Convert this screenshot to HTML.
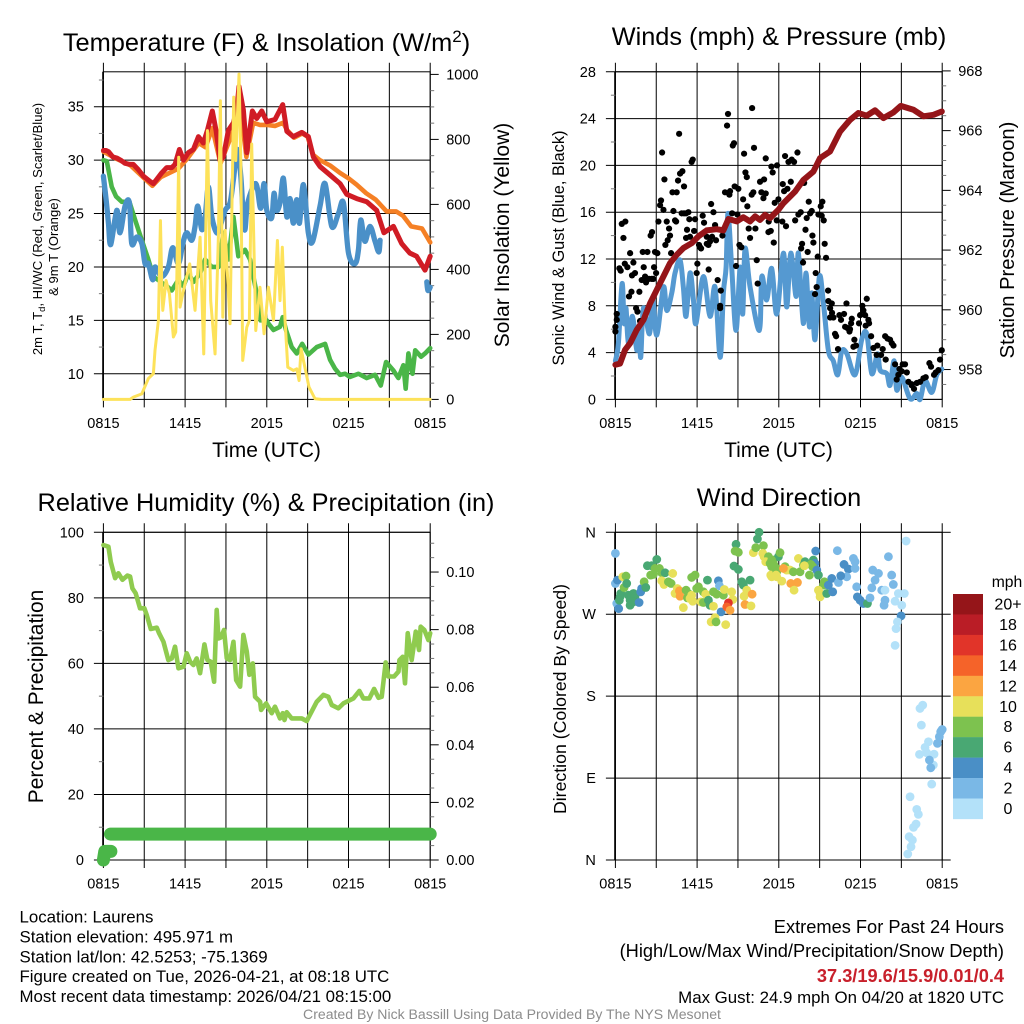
<!DOCTYPE html>
<html lang="en">
<head>
<meta charset="utf-8">
<title>Laurens Mesonet Station Meteogram</title>
<style>
html,body{margin:0;padding:0;background:#fff;}
svg{display:block;font-family:"Liberation Sans",Arial,sans-serif;fill:#000;}
</style>
</head>
<body>
<svg id="chart" xmlns="http://www.w3.org/2000/svg" width="1024" height="1024" viewBox="0 0 1024 1024">
  <rect x="0" y="0" width="1024" height="1024" fill="#fff"/>
  <g id="layer-1"></g>
  <g id="layer-2"></g>
  <g id="layer-3"></g>
  <g id="layer-4"></g>
  <g id="layer-legend"></g>

  <text x="266.5" y="51" font-size="25.4" text-anchor="middle">Temperature (F) &amp; Insolation (W/m<tspan font-size="17" dy="-9">2</tspan><tspan dy="9">)</tspan></text>
  <text x="779" y="45" font-size="25.3" text-anchor="middle">Winds (mph) &amp; Pressure (mb)</text>
  <text x="266" y="511" font-size="25.3" text-anchor="middle">Relative Humidity (%) &amp; Precipitation (in)</text>
  <text x="779" y="506" font-size="25.3" text-anchor="middle">Wind Direction</text>

  <text x="266.5" y="457" font-size="21" text-anchor="middle">Time (UTC)</text>
  <text x="778.5" y="457" font-size="21" text-anchor="middle">Time (UTC)</text>

  <text transform="translate(42,229) rotate(-90)" font-size="13.1" text-anchor="middle">2m T, T<tspan font-size="9.5" dy="3">d</tspan><tspan dy="-3">, HI/WC (Red, Green, Scarlet/Blue)</tspan></text>
  <text transform="translate(58,247) rotate(-90)" font-size="13.1" text-anchor="middle">&amp; 9m T (Orange)</text>
  <text transform="translate(509,235) rotate(-90)" font-size="21" text-anchor="middle">Solar Insolation (Yellow)</text>
  <text transform="translate(564,248) rotate(-90)" font-size="16.4" text-anchor="middle">Sonic Wind &amp; Gust (Blue, Black)</text>
  <text transform="translate(1014,240) rotate(-90)" font-size="20.2" text-anchor="middle">Station Pressure (Maroon)</text>
  <text transform="translate(43,696.5) rotate(-90)" font-size="21" text-anchor="middle">Percent &amp; Precipitation</text>
  <text transform="translate(566,699) rotate(-90)" font-size="17.7" text-anchor="middle">Direction (Colored By Speed)</text>

  <g font-size="16.85">
    <text x="19.5" y="922.5">Location: Laurens</text>
    <text x="19.5" y="942.5">Station elevation: 495.971 m</text>
    <text x="19.5" y="962.5">Station lat/lon: 42.5253; -75.1369</text>
    <text x="19.5" y="982">Figure created on Tue, 2026-04-21, at 08:18 UTC</text>
    <text x="19.5" y="1002">Most recent data timestamp: 2026/04/21 08:15:00</text>
  </g>
  <g text-anchor="end">
    <text x="1004" y="933" font-size="18.25">Extremes For Past 24 Hours</text>
    <text x="1004" y="957" font-size="18.25">(High/Low/Max Wind/Precipitation/Snow Depth)</text>
    <text x="1004" y="982" font-size="18.2" font-weight="bold" fill="#c8202b">37.3/19.6/15.9/0.01/0.4</text>
    <text x="1004" y="1003" font-size="16.85">Max Gust: 24.9 mph On 04/20 at 1820 UTC</text>
  </g>
  <text x="512" y="1019" font-size="14.07" text-anchor="middle" fill="#8c8c8c">Created By Nick Bassill Using Data Provided By The NYS Mesonet</text>
</svg>

<script>
// ---- Shared axis labels ----
const timeTickHours = [0, 6, 12, 18, 24];
const timeTickLabels = ['0815', '1415', '2015', '0215', '0815'];
const timeGridHours = [0, 3, 6, 9, 12, 15, 18, 21, 24];

// ---- Temperature panel ----
const tempTicks = [10, 15, 20, 25, 30, 35];
const tempMinorTicks = [7.5, 12.5, 17.5, 22.5, 27.5, 32.5, 37.5];
const solarTicks = [0, 200, 400, 600, 800, 1000];
const solarMinorTicks = [50, 100, 150, 250, 300, 350, 450, 500, 550, 650, 700, 750, 850, 900, 950];

const airHours = [0,0.2,0.37,0.69,0.98,1.27,1.59,1.96,2.2,2.57,2.94,3.43,3.67,3.92,4.28,4.65,5.02,5.26,5.58,5.88,6.24,6.61,6.98,7.34,7.64,8,8.27,8.57,8.81,9.18,9.55,9.79,9.96,10.28,10.53,10.94,11.26,11.63,12,12.6,13.17,13.47,13.95,14.57,15.05,15.42,15.91,16.65,17.38,17.87,18.6,19.34,20.07,20.6,21.3,21.9,22.5,23,23.62,24];
const airTemp = [30.9,30.9,30.8,30.3,30.2,30,29.7,29.6,29.6,29.1,28.5,28,27.8,28.2,28.8,29.3,29.3,29.6,31,30,30.7,31,32.2,31.6,32.8,34.6,32.8,30,30.3,32.8,33.5,34.7,36.9,34.7,30.7,34.6,33.9,34.6,33.6,33.8,35.2,32.7,32.2,32.6,32.2,30.3,29.4,28.6,27.8,26.8,26.4,26.1,25.3,23.2,23.8,22.2,21.3,21,19.7,21];

const nineMeterHours = [0,1,2,3,3.6,4.2,5,5.5,6.2,7,7.5,8,8.6,9,9.5,10,10.5,11,11.5,12,12.6,13.2,13.5,14,14.6,15,15.4,15.9,16.65,17.38,18,18.6,19.3,20,20.8,21.5,22,22.6,23.4,24];
const nineMeterTemp = [30.8,30.1,29.5,28.3,27.6,28.4,28.9,29.2,30.2,31.6,31.2,33,29.7,31,32.6,35.5,30.3,33.5,33.3,33.3,33.2,33.5,32.8,32.1,32.5,32.2,30.5,30,29.5,28.8,28.3,27.7,26.9,26.3,25.2,25.2,24.8,23.8,23.6,22.3];

const chillHours = [0,0.2,0.37,0.54,0.98,1.22,1.59,1.91,2.08,2.45,2.82,3.06,3.3,3.62,3.79,4.28,4.77,5.09,5.51,5.83,6.12,6.49,6.73,6.93,7.22,7.47,7.71,7.96,8.32,8.57,8.94,9.3,9.55,9.84,10.09,10.36,10.6,11.19,11.55,11.8,12,12.36,12.53,12.7,12.97,13.22,13.47,13.71,13.95,14.2,14.4,14.69,15.05,15.37,15.91,16.28,16.77,17.26,17.63,18,18.48,18.73,18.9,19.2,19.58,19.95,20.22,20.32,null,23.75,23.83,24];
const chillTemp = [28.5,26.3,24.1,22.1,25.3,23.2,25.7,26,22.2,22.8,22.2,20.3,20.3,18.8,20,19.1,20,21.8,20.3,22.2,23.2,22.5,23.8,25.7,23.5,24.7,27.5,24.7,23.2,23.8,25.3,26,28.2,31,28.5,23.5,26,27.8,25.5,27.8,25.3,24.6,26.9,25.3,26,28.3,24.7,26.4,24.1,26.3,24.1,27.7,23.2,22.4,25.7,27.8,23.8,25,26,21.3,20.3,21.6,24.4,22.4,23.8,22.4,21.4,22.5,null,18.6,17.8,18.1];

const dewHours = [0,0.25,0.61,0.93,1.35,1.91,2.33,2.82,3.3,3.67,4.65,5.02,5.51,5.88,6.24,6.61,7.1,7.47,7.96,8.45,8.81,9.18,9.55,9.91,10.4,10.77,11.26,11.55,12,12.12,12.49,12.97,13.17,13.41,13.83,14.2,14.6,15.05,15.67,16.28,16.65,17,17.38,17.75,18.1,18.73,19.34,19.95,20.37,20.76,21.3,21.66,22.03,22.2,22.4,22.7,22.9,23.33,23.62,24];
const dewTemp = [30,29.9,27.5,26.6,26.1,26.1,24.4,22.5,20.7,19.1,18.2,17.8,18.8,18.2,19.4,18.6,19.4,20.7,20,20,23.2,20.7,24.7,21,21.6,20.7,17.5,15,15,14.7,14.1,14.4,15.3,14.1,12.5,11.9,12.8,11.8,12.5,12.8,11.3,10.5,9.9,10,9.7,10,9.6,9.9,8.9,11.1,10.3,9.6,10.8,8.6,11.9,10,12.2,11.6,11.9,12.4];

const solarHours = [0,1.96,2.2,2.82,3.3,3.67,3.79,4.04,4.19,4.28,4.36,4.6,4.85,5.14,5.31,5.39,5.53,5.63,5.88,6.34,6.73,7.1,7.37,7.64,7.88,8.2,8.45,8.59,8.77,8.94,9.3,9.57,9.72,9.96,10.09,10.23,10.53,10.72,10.89,11.19,11.5,11.8,12.12,12.49,12.78,12.97,13.14,13.34,13.54,13.95,14.2,14.37,14.52,14.69,15.1,15.54,16,24];
const solarWatts = [0,0,7,17,64,79,151,243,550,366,274,366,325,192,207,366,745,284,335,417,274,499,140,827,304,140,509,919,253,520,233,930,735,1001,735,120,222,243,786,212,345,202,345,243,489,304,468,243,99,89,94,58,156,120,38,2,0,0];

// ---- Wind panel ----
const windTicks = [0, 4, 8, 12, 16, 20, 24, 28];
const windMinorTicks = [2, 6, 10, 14, 18, 22, 26];
const pressureTicks = [958, 960, 962, 964, 966, 968];
const pressureMinorTicks = [957.5, 958.5, 959, 959.5, 960.5, 961, 961.5, 962.5, 963, 963.5, 964.5, 965, 965.5, 966.5, 967, 967.5];

const windHours = [0,0.22,0.49,0.64,0.78,0.95,1.25,1.57,1.74,1.86,2.06,2.5,2.74,3.04,3.53,3.77,4.14,4.38,4.75,4.99,5.19,5.48,5.73,5.92,6.46,6.95,7.32,7.69,7.93,8.13,8.27,8.54,8.86,9.16,9.35,9.52,9.89,10.57,10.75,11.11,11.48,11.85,12.34,12.58,12.88,13.27,13.44,13.8,14,14.25,14.42,14.66,14.98,15.28,15.64,16,16.33,16.62,17,17.6,18.09,18.46,18.83,19.25,19.44,19.93,20.17,20.47,20.66,21.03,21.64,22.13,22.38,22.74,23.23,23.6,23.97];
const windMph = [3.3,4.8,9.9,6.5,7.8,4.8,7.1,4.2,6.2,3.6,7.8,5.6,8.5,5.5,9.6,7.6,9.1,10.8,11.9,9.6,7.1,10.8,8.5,6.5,10.5,7.1,9.6,3.6,9.1,11.3,15.9,11.3,5.9,11.3,7.3,12.9,9.6,5.9,10.5,8.5,11.2,7.3,12.5,7.9,12.5,8.8,12.5,6.5,10.8,6.2,9.1,5.1,10.5,8.2,4.2,3.3,2.1,4.1,3.9,2.1,5.1,5.6,2.2,3.9,2.5,2.2,1.2,3.3,0.8,1.9,0.06,0.5,0,1.6,0.6,2.1,2.6];

const pressureHours = [0,0.34,0.71,1.08,1.57,2.06,2.55,3.04,3.53,4.01,4.5,5,5.6,6.1,6.7,7.44,7.93,8.3,8.91,9.4,9.89,10.26,10.62,10.99,11.36,11.97,12.34,13.2,13.81,14.54,15.03,15.76,16.5,17.23,17.84,18.46,19.07,19.68,20.42,20.96,21.89,22.62,23.36,23.97];
const pressureMb = [958.16,958.2,958.66,958.88,959.33,959.66,960.22,960.67,961.12,961.56,961.84,962.07,962.23,962.46,962.66,962.7,962.66,963.04,962.96,963.1,962.96,963.13,963.01,963.18,963.07,963.35,963.57,963.96,964.35,964.63,965.08,965.3,965.97,966.36,966.59,966.5,966.68,966.42,966.61,966.83,966.7,966.48,966.53,966.64];

const gustHours = [0,0,0.1,0.1,0.29,0.39,0.47,0.73,0.59,0.69,0.88,1.08,1,1.18,1.32,1.22,1.44,1.52,1.62,1.76,1.81,1.93,2.01,2.08,2.2,2.35,2.18,2.25,2.47,2.67,2.79,2.59,2.69,2.84,2.91,3.08,2.99,3.16,3.28,3.35,3.53,3.43,3.6,3.77,3.67,3.84,4.01,3.94,4.09,4.19,4.5,4.26,4.38,4.46,4.6,4.75,4.92,5.04,4.68,4.87,5.04,5.36,5.19,5.26,5.19,5.48,5.43,5.78,5.85,5.68,5.6,6.14,6.02,5.97,6.22,6.29,6.41,6.51,6.51,6.71,6.83,6.95,6.71,6.85,7.03,7.2,7.32,7.39,7.1,7.51,7.74,7.69,7.69,7.86,8.05,8.37,8.42,8.27,8.2,8.62,8.71,8.76,9.03,8.57,8.96,9.11,9.25,8.86,9.45,9.55,9.65,9.38,9.69,9.89,9.79,10.01,10.13,10.28,10.04,10.18,10.38,10.45,10.62,10.92,10.72,11.04,10.87,11.04,11.46,11.55,11.87,11.24,11.41,11.63,11.7,11.26,11.85,11.97,12.29,12.39,12.63,12.88,12.46,12.71,12.95,13.12,13.37,12.26,12.53,13.86,13.2,13.44,13.61,14.05,14.3,14.42,14.2,13.96,14.47,14.54,13.71,13.64,14.12,13.78,14.86,15.47,15.37,14.91,15.08,15.2,15.15,15.3,14.71,14.78,14.66,15.62,15.64,15.89,15.77,15.77,16.01,15.91,16.45,16.79,16.57,16.97,16.87,17.04,17.23,17.19,17.36,17.31,16.13,16.21,16.35,17.48,17.67,17.55,17.89,17.97,18.14,18.21,18.34,18.46,18.58,18.63,18.38,18.78,18.95,19.24,19.19,19.51,19.63,19.81,19.98,20.17,20.3,20.42,19.85,20.54,20.78,20.86,21.1,21.27,21.03,21.4,20.66,21.52,21.76,21.93,21.76,22.13,22.38,22.62,22.79,23.06,23.18,23.4,23.53,23.72,23.84,23.97];
const gustMph = [5.8,6.2,7.3,6.8,11.2,11,15,15.2,13.8,11.6,11.3,12.5,8.8,9.2,11.7,10.6,10.8,7.8,7.5,9.2,6.7,10.2,12.6,11.3,10.3,12.6,10.5,10,10.3,10.3,10.3,14,14.3,11.3,12.6,12.5,10.8,15.2,16.6,17,16.2,21.1,18.8,15.2,13.2,13.6,14,14.6,12.5,17.7,17.7,16.1,15.3,15.2,18.7,19.3,19.5,18.2,22.7,15.9,15.9,16,15.9,14.5,13.8,13.9,15.4,14.4,15.4,20.5,20.3,13.2,11.6,10.8,13,12.9,15.7,15.1,14.2,13.3,13.2,13.5,13.9,11.1,16.7,16,14.9,13.6,13.9,10.2,9.3,8,7.8,14,17.7,17.5,17.8,24.4,23.4,21.7,21.9,18.2,18,15.9,15.8,13.2,13,11.4,21,19.4,19,17.1,16.5,13.8,14.6,17.5,17.7,14.6,24.9,21.5,11.9,9.9,18.6,18.8,17.7,17.6,17.2,20.6,19.9,19.4,20,14.3,14.4,13.4,16.8,15.2,15.3,17.1,18.4,17.8,18,18.6,20.8,20.3,20.5,20.3,21.1,15.2,14.8,18.5,15.3,15.8,16,15.5,15.9,16.1,16.9,14.5,14,13.4,13.3,12.9,12.6,11.7,12.2,12.1,13.3,15.8,16.5,16.9,15.7,15.3,10.8,9.6,9,9.3,8.4,8.2,7.8,7,7,7.4,7.2,7.3,6.8,8.2,6.2,6.1,6,5.8,6.9,6.5,5.6,5.4,4.3,4.5,4.6,5.1,6.5,7.2,8,7.6,7.2,8.6,6.8,6.5,6.3,5.4,4.4,4.6,3.8,3.8,4.3,5.4,5.2,5.1,4.8,4.6,3.4,3,2.1,2.6,3,3,2.4,2.3,1.7,1.5,1.2,0.9,1.3,1.4,1.5,1.8,1.9,3.1,2.8,2.1,2.3,2.5,3.4,4.2];

// ---- Humidity / precipitation panel ----
const humidityTicks = [0, 20, 40, 60, 80, 100];
const humidityMinorTicks = [10, 30, 50, 70, 90];
const precipTicks = [0, 0.02, 0.04, 0.06, 0.08, 0.10];
const precipMinorTicks = [0.005, 0.01, 0.015, 0.025, 0.03, 0.035, 0.045, 0.05, 0.055, 0.065, 0.07, 0.075, 0.085, 0.09, 0.095, 0.105, 0.11];

const humidityHours = [0,0.37,0.54,0.86,1.1,1.4,1.76,1.96,2.13,2.37,2.69,3.01,3.18,3.48,3.92,4.09,4.41,4.77,5.02,5.26,5.51,5.88,6.12,6.37,6.61,6.85,7.1,7.42,7.64,7.88,8.13,8.32,8.45,8.62,8.86,9.06,9.3,9.55,9.75,10.04,10.28,10.53,10.72,10.97,11.14,11.51,11.58,11.95,12.36,12.6,12.97,13.17,13.3,13.46,13.83,14.57,14.93,15.67,16.16,16.52,16.77,17.26,17.63,18.36,18.8,19.09,19.53,19.88,20.2,20.44,20.73,20.93,21.35,21.67,21.74,21.98,22.15,22.35,22.64,22.94,23.18,23.3,23.57,23.87,24];
const humidityPct = [96.1,95.6,91,86,87.5,85.5,86.8,86.5,82.9,81.4,76.8,76.8,74.8,70.5,70.9,69.2,66.6,61,61.5,65.1,58.5,59,63.1,60.5,59.5,61.5,57,65.8,61,60.5,54.4,76.3,67.6,67.9,70.2,61.5,61,66.6,54.9,52.9,68.7,63.6,56.5,60,49.8,48.3,45.8,47.8,44.8,46.8,43.2,44.8,42.7,45.1,43.2,43.2,42.4,48.3,50.4,49.8,47.3,46.3,47.8,49.3,51.6,49.3,49.3,52.2,49.5,49.8,60.3,56,56,57.5,61,62,53.9,69.2,61,69.7,64.1,71.2,70.2,67.1,69.2];

const precipHours = [0, 0.1, 0.55, null, 0.52, 24];
const precipInches = [0, 0.003, 0.003, null, 0.009, 0.009];

// ---- Direction panel ----
const directionTicks = [0, 90, 180, 270, 360];
const directionLabels = ['N', 'E', 'S', 'W', 'N'];

const dirHours = [0,0,0.1,0.15,0.24,0.39,0.34,0.29,0.54,0.64,0.78,0.83,0.95,1.08,1.2,1.32,1.44,1.08,1.32,1.74,1.86,1.93,2.11,2.23,2.35,2.67,3.04,2.91,3.23,2.59,2.79,3.4,3.65,4.21,3.4,3.57,3.89,4.09,4.55,4.38,4.7,4.75,4.99,5.19,5.36,5.29,5.48,5.6,5.68,5.85,5.6,6.1,5.97,6.27,6.46,6.46,6.63,6.76,6.83,6.95,7.2,7.56,7.64,7.2,7.44,7.93,8,8.54,8.62,7.76,7.32,7.03,7.39,8.1,8.86,8.79,9.03,8.71,9.03,10.13,10.31,10.43,10.55,10.87,10.82,10.92,11.24,11.04,11.36,11.6,11.97,11.48,11.85,11.41,11.6,11.85,9.28,9.4,9.89,9.65,9.45,10.04,9.52,9.96,8.3,8.18,8.42,11.48,11.65,12.09,11.85,12.46,12.58,12.83,12.22,11.48,11.8,12.34,12.88,13.37,13.12,13.44,13.07,13.56,13.81,13.93,14.54,14.66,14.49,14.35,14.25,13.88,14.71,14.79,14.91,15.35,15.28,15.64,15.89,15.03,15.03,14.91,15.52,15.96,16.38,16.3,16.79,17.11,16.99,16.55,17.48,17.6,17.6,17.72,17.77,17.97,18.21,18.51,18.7,20.05,18.9,19.32,19.07,18.83,19.56,19.8,20.29,20.41,19.8,19.73,20.54,20.78,21.22,21.35,20.98,20.71,20.61,20.54,21.03,22.57,22.37,22.47,22.99,22.74,22.33,22.86,23.4,23.35,23.06,23.16,23.65,23.79,23.89,24,23.23,21.64,22.13,22.25,22.08,21.89,21.57,21.81,21.71,21.47];
const dirDegrees = [336.8,303.8,281.8,307.5,276.2,292.8,289.1,285.4,311.1,299.4,311.9,303.8,290.9,285.4,290.9,292.8,289.1,279.9,283.6,282.9,294.6,298.3,305.6,299.4,323.3,323.3,330.2,320.3,320.3,313,313.7,315.5,315.5,314.8,306.7,302.7,305.6,303.8,298.3,292.8,295.7,289.8,277.3,296.4,292.8,288,287.3,290.9,284.3,313,310.4,300.1,298.3,283.6,282.9,294.6,292,307.5,285.4,279.9,278.8,306.7,301.2,294.6,292,290.9,297.2,294.6,286.2,272.6,266.3,261.6,261.6,258.6,346.8,339.4,338,322.9,319.2,337.6,343.1,352.6,360,345.3,336.8,333.2,333.2,327.7,325.8,329.5,333.2,322.2,320.3,313,312.2,311.1,305.6,302,307.5,296.4,289.8,292,280.7,279.2,282.5,278.1,274.4,329.5,324,337.6,316.6,322.2,318.5,318.5,306.4,311.1,313,320.3,303.8,304.9,296.4,331.3,316.6,316.6,324,327.7,329.5,325.8,322.2,324.7,313,323.3,339.4,318.5,313,305.6,302,302,309.3,292.8,289.1,296.4,292.8,294.6,304.9,339.8,324.7,319.6,311.1,312.2,331.3,327.7,320.3,300.1,289.1,285.4,281.8,281.8,288,333.2,318.5,314.8,307.5,299,296.4,296.4,313,302.7,285.4,279.9,284.3,292.8,292.8,350.4,268.2,261.6,254.2,235.8,279.9,170.1,166.5,148.2,129.9,123.7,116,117.8,116.3,104.3,109.8,101.3,128.1,135.4,140.9,143.4,83.4,69.5,55.6,50.1,39.5,35.8,25.6,21.9,14.6,6.6];
const dirSpeeds = [2,2,2,4,4,6,6,6,10,8,8,6,6,6,6,6,6,6,6,4,4,4,8,6,6,6,6,8,8,8,8,8,6,10,10,10,8,8,10,10,12,12,10,8,8,8,10,10,10,8,8,8,8,10,8,8,10,6,6,6,10,4,2,8,8,8,10,10,10,4,10,10,8,10,6,8,8,6,6,10,8,6,6,8,10,10,8,10,8,8,6,8,8,10,10,10,6,6,6,10,10,12,12,10,16,14,12,8,8,8,8,8,10,10,10,10,10,12,12,12,10,10,8,8,8,6,6,4,8,8,8,10,4,4,6,8,8,4,4,10,10,10,6,4,2,2,4,4,2,4,2,2,2,2,4,4,4,6,2,2,2,2,2,2,2,0,2,2,2,2,0,0,0,0,4,0,0,0,0,0,0,0,0,0,0,0,0,0,2,2,2,2,2,2,0,0,0,0,0,0,0,0,0,0];

// ---- Speed legend ----
const legendLabels = ['20+', '18', '16', '14', '12', '10', '8', '6', '4', '2', '0'];
const speedColors = ['#b3e1f9', '#7ab8e6', '#4a8fc6', '#49a873', '#7dc24f', '#e7e05a', '#fba541', '#f56329', '#e13429', '#ba1d26', '#951519'];

const SVG_NS = 'http://www.w3.org/2000/svg';

function makeLinear(d0, d1, r0, r1) {
  return function (v) { return r0 + (v - d0) * (r1 - r0) / (d1 - d0); };
}

function addEl(parent, tag, attrs) {
  const el = document.createElementNS(SVG_NS, tag);
  for (const k in attrs) el.setAttribute(k, attrs[k]);
  parent.appendChild(el);
  return el;
}

function linePath(hours, values, xf, yf, smooth) {
  let d = '';
  let run = [];
  function flush() {
    if (!run.length) return;
    d += 'M' + run[0][0].toFixed(2) + ' ' + run[0][1].toFixed(2);
    for (let i = 0; i < run.length - 1; i++) {
      const a = run[i];
      const b = run[i + 1];
      if (smooth) {
        const p = run[Math.max(0, i - 1)];
        const n = run[Math.min(run.length - 1, i + 2)];
        const c1x = a[0] + (b[0] - p[0]) / 6;
        const c1y = a[1] + (b[1] - p[1]) / 6;
        const c2x = b[0] - (n[0] - a[0]) / 6;
        const c2y = b[1] - (n[1] - a[1]) / 6;
        d += 'C' + c1x.toFixed(2) + ' ' + c1y.toFixed(2) + ' ' + c2x.toFixed(2) + ' ' + c2y.toFixed(2) + ' ' + b[0].toFixed(2) + ' ' + b[1].toFixed(2);
      } else {
        d += 'L' + b[0].toFixed(2) + ' ' + b[1].toFixed(2);
      }
    }
    run = [];
  }
  for (let i = 0; i < hours.length; i++) {
    if (hours[i] === null || values[i] === null) { flush(); continue; }
    run.push([xf(hours[i]), yf(values[i])]);
  }
  flush();
  return d;
}

function drawSeries(parent, name, hours, values, xf, yf, color, width, smooth) {
  const p = addEl(parent, 'path', {
    d: linePath(hours, values, xf, yf, smooth), fill: 'none', stroke: color, 'stroke-width': width,
    'stroke-linejoin': 'round', 'stroke-linecap': 'round'
  });
  
  
  return p;
}

function hLine(parent, x0, x1, y, color, w) {
  const l = addEl(parent, 'line', { x1: x0, x2: x1, y1: y, y2: y, stroke: color, 'stroke-width': w });
  
  
  return l;
}

function label(parent, text, x, y, anchor, size) {
  const t = addEl(parent, 'text', { x: x, y: y, 'text-anchor': anchor, 'font-size': size });
  t.textContent = text;
  
  
  return t;
}

function drawFrame(parent, box, xf) {
  const frame = addEl(parent, 'rect', {
    x: box.x0, y: box.y0, width: box.x1 - box.x0, height: box.y1 - box.y0,
    fill: 'none', stroke: '#000', 'stroke-width': 1
  });
  
  
  const edge = addEl(parent, 'line', { x1: box.x0 - 0.7, x2: box.x0 - 0.7, y1: box.y0, y2: box.y1, stroke: '#000', 'stroke-width': 1 });
  
  
  timeGridHours.forEach(function (h) {
    const g = addEl(parent, 'line', { x1: xf(h), x2: xf(h), y1: box.y0 - 9, y2: box.y1 + 8, stroke: '#000', 'stroke-width': 1 });
    
    
  });
  timeTickHours.forEach(function (h, i) {
    label(parent, timeTickLabels[i], xf(h), box.y1 + 28.5, 'middle', 14.5);
  });
}

function drawLeftAxis(parent, box, yf, ticks, minor, labels) {
  ticks.forEach(function (v, i) {
    hLine(parent, box.x0 - 9.5, box.x1, yf(v), '#000', 1);
    label(parent, labels ? labels[i] : String(v), box.x0 - 19.5, yf(v) + 5, 'end', 14.5);
  });
  minor.forEach(function (v) {
    if (yf(v) > box.y1 || yf(v) < box.y0) return;
    hLine(parent, box.x0 - 4.5, box.x0, yf(v), '#777', 1);
  });
}

function drawRightAxis(parent, box, yf, ticks, minor, labels) {
  ticks.forEach(function (v, i) {
    hLine(parent, box.x1, box.x1 + 8.5, yf(v), '#000', 1);
    if (labels) label(parent, labels[i], box.x1 + 16, yf(v) + 5, 'start', 14.5);
  });
  minor.forEach(function (v) {
    if (yf(v) > box.y1 || yf(v) < box.y0) return;
    hLine(parent, box.x1, box.x1 + 4, yf(v), '#777', 1);
  });
}

// ---- Panel 1: temperature and insolation ----
(function () {
  const g = document.getElementById('layer-1');
  const box = { x0: 103.4, x1: 430.2, y0: 71.8, y1: 399.4 };
  const x = makeLinear(0, 24, box.x0, box.x1);
  const yT = makeLinear(7.6, 38.27, box.y1, box.y0);
  const yS = makeLinear(0, 1008, box.y1, box.y0);
  drawFrame(g, box, x);
  drawLeftAxis(g, box, yT, tempTicks, tempMinorTicks);
  drawRightAxis(g, box, yS, solarTicks, solarMinorTicks, solarTicks.map(String));
  drawSeries(g, 'dewpoint-line', dewHours, dewTemp, x, yT, '#4ab648', 4.6, false);
  drawSeries(g, 'wind-chill-line', chillHours, chillTemp, x, yT, '#4a90c8', 5.3, true);
  drawSeries(g, 'nine-meter-temperature-line', nineMeterHours, nineMeterTemp, x, yT, '#f58025', 4.6, false);
  drawSeries(g, 'two-meter-temperature-line', airHours, airTemp, x, yT, '#d01c25', 5, false);
  drawSeries(g, 'solar-insolation-line', solarHours, solarWatts, x, yS, '#fde25a', 3, false);
})();

// ---- Panel 2: wind and pressure ----
(function () {
  const g = document.getElementById('layer-2');
  const box = { x0: 615.4, x1: 942.2, y0: 71.8, y1: 399.4 };
  const x = makeLinear(0, 24, box.x0, box.x1);
  const yW = makeLinear(0, 28, box.y1, box.y0);
  const yP = makeLinear(957, 967.97, box.y1, box.y0);
  drawFrame(g, box, x);
  drawLeftAxis(g, box, yW, windTicks, windMinorTicks);
  drawRightAxis(g, box, yP, pressureTicks, pressureMinorTicks, pressureTicks.map(String));
  drawSeries(g, 'sonic-wind-line', windHours, windMph, x, yW, '#5599d1', 5, true);
  gustHours.forEach(function (h, i) {
    const c = addEl(g, 'circle', { cx: x(h), cy: yW(gustMph[i]), r: 3.1, fill: '#000' });
    
    
  });
  drawSeries(g, 'station-pressure-line', pressureHours, pressureMb, x, yP, '#951519', 6, false);
})();

// ---- Panel 3: humidity and precipitation ----
(function () {
  const g = document.getElementById('layer-3');
  const box = { x0: 103.4, x1: 430.2, y0: 532.3, y1: 860 };
  const x = makeLinear(0, 24, box.x0, box.x1);
  const yH = makeLinear(0, 100, box.y1, box.y0);
  const yR = makeLinear(0, 0.1138, box.y1, box.y0);
  drawFrame(g, box, x);
  drawLeftAxis(g, box, yH, humidityTicks, humidityMinorTicks);
  drawRightAxis(g, box, yR, precipTicks, precipMinorTicks, precipTicks.map(function (v) { return v.toFixed(2); }));
  drawSeries(g, 'relative-humidity-line', humidityHours, humidityPct, x, yH, '#8fcb4f', 4.6, false);
  drawSeries(g, 'precipitation-line', precipHours, precipInches, x, yR, '#4ab648', 13, false);
})();

// ---- Panel 4: wind direction ----
(function () {
  const g = document.getElementById('layer-4');
  const box = { x0: 615.4, x1: 942.2, y0: 532.3, y1: 860 };
  const x = makeLinear(0, 24, box.x0, box.x1);
  const y = makeLinear(0, 360, box.y1, box.y0);
  drawFrame(g, box, x);
  drawLeftAxis(g, box, y, directionTicks, [], directionLabels);
  drawRightAxis(g, box, y, directionTicks, []);
  dirHours.forEach(function (h, i) {
    const c = addEl(g, 'circle', {
      cx: x(h), cy: y(dirDegrees[i]), r: 4.4,
      fill: speedColors[Math.min(10, Math.round(dirSpeeds[i] / 2))]
    });
    
    
  });
})();

// ---- Speed legend ----
(function () {
  const g = document.getElementById('layer-legend');
  const top = 594;
  const boxH = 20.45;
  const unit = label(g, 'mph', 1007, 587, 'middle', 15.7);
  
  legendLabels.forEach(function (name, i) {
    const r = addEl(g, 'rect', {
      x: 953, y: top + i * boxH, width: 30, height: boxH + 0.2,
      fill: speedColors[10 - i]
    });
    
    
    const t = label(g, name, 1008, top + i * boxH + 15.5, 'middle', 16);
    
  });
})();
</script>
</body>
</html>
